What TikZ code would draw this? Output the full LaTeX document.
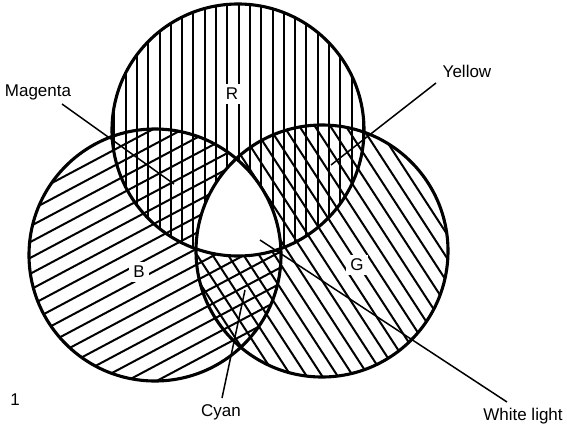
\documentclass[tikz,border=0pt]{standalone}
\usepackage{fontspec}
\setmainfont{Liberation Sans}
\begin{document}
\begin{tikzpicture}[x=1pt,y=-1pt,
  ring/.style={line width=3.1pt},
  hatch/.style={line width=2pt},
  leader/.style={line width=1.5pt},
  lab/.style={font=\fontsize{17}{19}\selectfont, inner sep=1pt},
  letter/.style={font=\fontsize{17}{19}\selectfont, fill=white, inner sep=4pt}]
\path[use as bounding box] (0,0) rectangle (567,431);
\coordinate (cR) at (238,130);
\coordinate (cB) at (155,255);
\coordinate (cG) at (322,251);
% R hatching: vertical
\begin{scope}
  \clip (cR) circle (126pt);
  \begin{scope}[shift={(cR)}]
    \foreach \t in {-135,-123.7,...,136} \draw[hatch] (\t,-140) -- (\t,140);
  \end{scope}
\end{scope}
% B hatching
\begin{scope}
  \clip (cB) circle (126pt);
  \begin{scope}[shift={(cB)}, rotate=28]
    \foreach \t in {-140,-126,...,141} \draw[hatch] (-150,\t) -- (150,\t);
  \end{scope}
\end{scope}
% G hatching
\begin{scope}
  \clip (cG) circle (126pt);
  \begin{scope}[shift={(cG)}, rotate=-57]
    \foreach \t in {-140,-127,...,141} \draw[hatch] (-150,\t) -- (150,\t);
  \end{scope}
\end{scope}
% white centre
\begin{scope}
  \clip (cR) circle (126pt);
  \clip (cB) circle (126pt);
  \fill[white] (cG) circle (126pt);
\end{scope}
% letters
\node[letter] (R) at (232,94) {R};
\node[letter] (B) at (139,272) {B};
\node[letter] (G) at (357,265) {G};
% circles
\draw[ring] (cR) circle (126pt);
\draw[ring] (cB) circle (126pt);
\draw[ring] (cG) circle (126pt);
% labels
\node[lab] (mag) at (38,92) {Magenta};
\node[lab] (yel) at (467,71) {Yellow};
\node[lab] (cyan) at (221,412) {Cyan};
\node[lab] (white) at (523,416) {White light};
\node[lab] (one) at (15,400) {1};
% leaders
\coordinate (mS) at (62,104);
\coordinate (mE) at (174,184);
\coordinate (yS) at (436,83);
\coordinate (yE) at (331,165);
\coordinate (wS) at (507,402);
\coordinate (wE) at (260,240);
\coordinate (cS) at (222,398);
\coordinate (cE) at (245,290);
\draw[leader] (mS) -- (mE);
\draw[leader] (yS) -- (yE);
\draw[leader] (wS) -- (wE);
\draw[leader] (cS) -- (cE);
\end{tikzpicture}
\end{document}
